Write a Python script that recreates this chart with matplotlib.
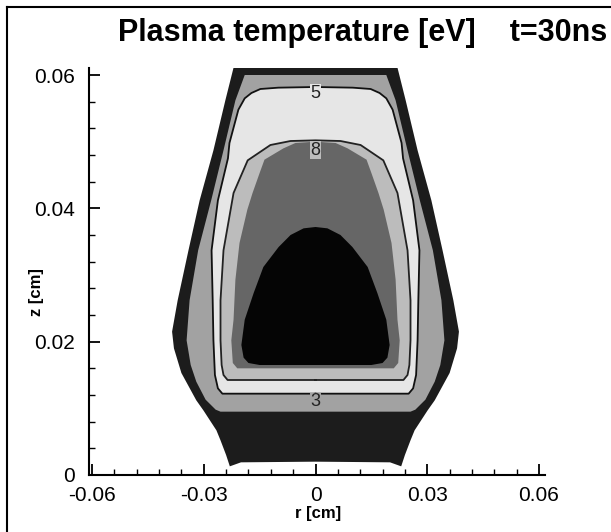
import matplotlib
matplotlib.use('Agg')
from matplotlib import pyplot as plt
from matplotlib.lines import Line2D
from matplotlib.ticker import MultipleLocator

plt.rcParams['font.family'] = ['Liberation Sans', 'DejaVu Sans']

# right-half outlines (r, z in cm) of the temperature regions, mirrored about r=0
outer_r = [0, 0.0200, 0.0230, 0.0240, 0.0255, 0.0266, 0.0301, 0.0320, 0.0360, 0.0380,
           0.0385, 0.0370, 0.0341, 0.0311, 0.0274, 0.0242, 0.0220, 0]
outer_z = [0.0020, 0.0019, 0.0013, 0.0030, 0.0052, 0.0067, 0.0097, 0.0112, 0.0153, 0.0190,
           0.0215, 0.0262, 0.0337, 0.0412, 0.0487, 0.0562, 0.0611, 0.0611]

mid_r = [0, 0.0255, 0.0268, 0.0295, 0.0320, 0.0335, 0.0346, 0.0338, 0.0315, 0.0280,
         0.0247, 0.0215, 0.0190, 0]
mid_z = [0.0095, 0.0095, 0.0098, 0.0113, 0.0140, 0.0165, 0.0202, 0.0262, 0.0337, 0.0412,
         0.0487, 0.0562, 0.0600, 0.0600]

t5_r = [0, 0.0250, 0.0262, 0.0270, 0.0274, 0.0276, 0.0279, 0.0262, 0.0235, 0.0231,
        0.0207, 0.0190, 0.0172, 0.0148, 0.0100, 0]
t5_z = [0.0122, 0.0122, 0.0130, 0.0150, 0.0202, 0.0262, 0.0337, 0.0412, 0.0475, 0.0498,
        0.0548, 0.0565, 0.0573, 0.0579, 0.0581, 0.0582]

t7_r = [0, 0.0236, 0.0247, 0.0252, 0.0255, 0.0255, 0.0247, 0.0220, 0.0182, 0.0121,
        0.0067, 0]
t7_z = [0.01425, 0.01425, 0.0150, 0.0165, 0.0202, 0.0262, 0.0337, 0.0423, 0.0472, 0.0495,
        0.0501, 0.0502]

t8_r = [0, 0.0210, 0.0222, 0.0226, 0.0220, 0.0215, 0.0204, 0.0183, 0.0169, 0.0150,
        0.0137, 0.0086, 0.0054, 0]
t8_z = [0.0160, 0.0160, 0.0168, 0.0202, 0.0233, 0.0293, 0.0348, 0.0398, 0.0423, 0.0453,
        0.0473, 0.0490, 0.0498, 0.0500]

core_r = [0, 0.0150, 0.0180, 0.0193, 0.0199, 0.0190, 0.0166, 0.0140, 0.0099, 0.0067,
          0.0032, 0]
core_z = [0.0165, 0.0165, 0.0168, 0.0176, 0.0195, 0.0233, 0.0273, 0.0312, 0.0342, 0.0360,
          0.0370, 0.0372]

level_labels = ['5', '8', '3']
label_z = [0.0573, 0.0487, 0.0110]

x_ticks = [-0.06, -0.03, 0, 0.03, 0.06]
x_ticklabels = ['-0.06', '-0.03', '0', '0.03', '0.06']
y_ticks = [0, 0.02, 0.04, 0.06]
y_ticklabels = ['0', '0.02', '0.04', '0.06']


def mirror(rs, zs):
    xs = list(rs) + [-r for r in reversed(rs)]
    ys = list(zs) + list(reversed(zs))
    return xs, ys


def fillRegion(ax, rs, zs, color, edge=None):
    xs, ys = mirror(rs, zs)
    ax.fill(xs, ys, color=color, lw=0)
    if edge:
        ax.plot(xs + [xs[0]], ys + [ys[0]], color=edge, lw=1.3)


fig = plt.figure(figsize=(6.11, 5.32), dpi=100)
ax = fig.add_axes([89 / 611, 57 / 532, 456 / 611, 407 / 532])

fillRegion(ax, outer_r, outer_z, '#1c1c1c')
fillRegion(ax, mid_r, mid_z, '#a2a2a2')
fillRegion(ax, t5_r, t5_z, '#e6e6e6', edge='#111111')
fillRegion(ax, t7_r, t7_z, '#bcbcbc', edge='#222222')
fillRegion(ax, t8_r, t8_z, '#666666')
fillRegion(ax, core_r, core_z, '#050505')

label_bg = ['#e6e6e6', '#bcbcbc', '#a2a2a2']
for text, z, bg in zip(level_labels, label_z, label_bg):
    ax.text(0, z, text, ha='center', va='center', fontsize=13, color='#222222',
            bbox=dict(fc=bg, ec='none', pad=0.3))

ax.set_xlim(-0.0608, 0.0616)
ax.set_ylim(0, 0.06105)

for side in ['top', 'right']:
    ax.spines[side].set_visible(False)
for side in ['left', 'bottom']:
    ax.spines[side].set_linewidth(1.5)

ax.set_xticks(x_ticks)
ax.set_xticklabels(x_ticklabels)
ax.set_yticks(y_ticks)
ax.set_yticklabels(y_ticklabels)
ax.xaxis.set_minor_locator(MultipleLocator(0.006))
ax.yaxis.set_minor_locator(MultipleLocator(0.004))
ax.tick_params(which='major', direction='in', length=8, width=1.3, labelsize=15)
ax.tick_params(axis='x', which='major', pad=8)
ax.tick_params(axis='y', which='major', pad=10)
ax.tick_params(which='minor', direction='in', length=4, width=1)

ax.set_xlabel('r [cm]', fontsize=12, fontweight='bold')
ax.set_ylabel('z [cm]', fontsize=12, fontweight='bold')
ax.xaxis.set_label_coords(0.502, -0.076)
ax.yaxis.set_label_coords(-0.099, 0.45)

fig.text(118 / 611, 1 - 33 / 532, 'Plasma temperature [eV]    t=30ns',
         fontsize=22, fontweight='bold', ha='left', va='center')

# page frame of the scanned figure
fig.add_artist(Line2D([7 / 611, 7 / 611], [0, 1 - 7 / 532], color='black', lw=1.5))
fig.add_artist(Line2D([7 / 611, 1], [1 - 7 / 532, 1 - 7 / 532], color='black', lw=1.5))

fig.savefig('out.png', dpi=100)
